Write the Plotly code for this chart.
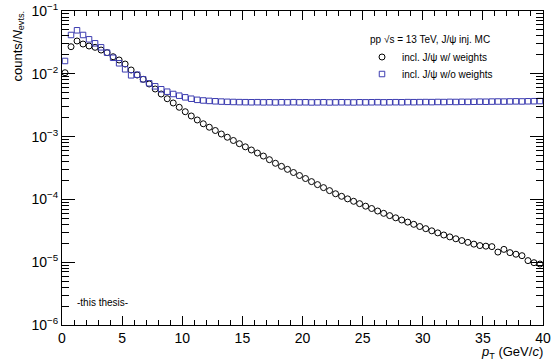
import plotly.graph_objects as go

pt = [0.25 + 0.5 * i for i in range(80)]

w_weights = [
    0.0104, 0.0270, 0.0333, 0.0298, 0.0277, 0.0264, 0.0239, 0.0217, 0.0187, 0.0166,
    0.0143, 0.0115, 0.00957, 0.00817, 0.00689, 0.00573, 0.00477, 0.00401, 0.00343, 0.00293,
    0.00249, 0.00213, 0.00184, 0.00160, 0.00141, 0.00125, 0.00110, 9.77e-4, 8.67e-4, 7.71e-4,
    6.87e-4, 6.12e-4, 5.47e-4, 4.90e-4, 4.29e-4, 3.76e-4, 3.36e-4, 3.01e-4, 2.68e-4, 2.40e-4,
    2.15e-4, 1.92e-4, 1.72e-4, 1.54e-4, 1.38e-4, 1.23e-4, 1.12e-4, 1.02e-4, 9.33e-5, 8.55e-5,
    7.80e-5, 7.16e-5, 6.53e-5, 6.00e-5, 5.52e-5, 5.09e-5, 4.70e-5, 4.35e-5, 4.01e-5, 3.70e-5,
    3.42e-5, 3.16e-5, 2.93e-5, 2.71e-5, 2.53e-5, 2.36e-5, 2.21e-5, 2.07e-5, 1.94e-5, 1.84e-5,
    1.80e-5, 1.77e-5, 1.45e-5, 1.60e-5, 1.42e-5, 1.34e-5, 1.27e-5, 1.06e-5, 9.82e-6, 9.35e-6,
]

wo_weights = [
    0.0160, 0.0415, 0.0493, 0.0415, 0.0354, 0.0306, 0.0264, 0.0217, 0.0180, 0.0147,
    0.0118, 0.00946, 0.00968, 0.00817, 0.00706, 0.00632, 0.00567, 0.00519, 0.00477, 0.00448,
    0.00422, 0.00401, 0.00385, 0.00376, 0.00370, 0.00365, 0.00361, 0.00358, 0.00356, 0.00354,
    0.00353, 0.00352, 0.00353, 0.00351, 0.00352, 0.00350, 0.00352, 0.00351, 0.00353, 0.00351,
    0.00352, 0.00350, 0.00351, 0.00352, 0.00350, 0.00351, 0.00352, 0.00351, 0.00350, 0.00352,
    0.00351, 0.00352, 0.00353, 0.00351, 0.00352, 0.00353, 0.00352, 0.00354, 0.00353, 0.00354,
    0.00355, 0.00354, 0.00356, 0.00355, 0.00357, 0.00356, 0.00358, 0.00357, 0.00359, 0.00360,
    0.00359, 0.00361, 0.00362, 0.00361, 0.00363, 0.00364, 0.00363, 0.00365, 0.00366, 0.00368,
]

x_ticks = [0, 5, 10, 15, 20, 25, 30, 35, 40]
y_ticks = [1e-6, 1e-5, 1e-4, 1e-3, 1e-2, 1e-1]
y_ticktext = ["10<sup>−6</sup>", "10<sup>−5</sup>", "10<sup>−4</sup>",
              "10<sup>−3</sup>", "10<sup>−2</sup>", "10<sup>−1</sup>"]
y_minor = [k * 10.0 ** n for n in range(-6, -1) for k in range(2, 10)]

FONT = "Liberation Sans, Arial, Helvetica, sans-serif"
L, R, T, B = 62, 543, 11, 325
PW, PH = R - L, B - T


def px(x):
    return (x - L) / PW


def py(y):
    return (B - y) / PH


fig = go.Figure()
fig.add_trace(go.Scatter(
    x=pt, y=w_weights, mode="markers", name="incl. J/ψ w/ weights", legend="legend",
    marker=dict(symbol="circle-open", size=6, color="black", line=dict(width=1, color="black")),
))
fig.add_trace(go.Scatter(
    x=pt, y=wo_weights, mode="markers", name="incl. J/ψ w/o weights", legend="legend2",
    marker=dict(symbol="square-open", size=5.5, color="#3c3cb0", line=dict(width=1, color="#3c3cb0")),
))

leg_common = dict(xanchor="left", yanchor="middle", bgcolor="rgba(0,0,0,0)",
                  font=dict(size=10, family=FONT, color="black"), itemwidth=30)

fig.update_layout(
    width=551, height=363,
    margin=dict(l=L, r=551 - R, t=T, b=363 - B, autoexpand=False),
    paper_bgcolor="white", plot_bgcolor="white",
    font=dict(family=FONT, color="black"),
    showlegend=True,
    legend=dict(x=px(362), y=py(57), **leg_common),
    legend2=dict(x=px(362), y=py(74), **leg_common),
)

fig.update_xaxes(
    range=[0, 40], showline=True, linecolor="black", linewidth=1, mirror="allticks",
    ticks="inside", ticklen=9, tickwidth=1, tickcolor="black",
    tickmode="array", tickvals=x_ticks, automargin=False,
    minor=dict(ticks="inside", ticklen=5, tickwidth=1, tickcolor="black", dtick=1, tick0=0, showgrid=False),
    showgrid=False, zeroline=False, tickfont=dict(size=14, family=FONT, color="black"),
)
fig.update_yaxes(
    type="log", range=[-6, -1], showline=True, linecolor="black", linewidth=1, mirror="allticks",
    ticks="inside", ticklen=13, tickwidth=1, tickcolor="black",
    tickmode="array", tickvals=y_ticks, ticktext=y_ticktext, automargin=False,
    minor=dict(ticks="inside", ticklen=7, tickwidth=1, tickcolor="black",
               tickmode="array", tickvals=y_minor, showgrid=False),
    showgrid=False, zeroline=False, tickfont=dict(size=14, family=FONT, color="black"),
)

fig.add_annotation(
    text="counts/<i>N</i><sub>evts.</sub>", xref="paper", yref="paper",
    x=px(18), y=py(9), xanchor="center", yanchor="top", textangle=-90, showarrow=False,
    font=dict(size=13, family=FONT, color="black"),
)
fig.add_annotation(
    text="<i>p</i><sub>T</sub> (GeV/<i>c</i>)", xref="paper", yref="paper",
    x=px(545), y=py(342), xanchor="right", yanchor="top", showarrow=False,
    font=dict(size=13, family=FONT, color="black"),
)
fig.add_annotation(
    text="pp √s = 13 TeV, J/ψ inj. MC", xref="paper", yref="paper",
    x=px(368), y=py(40), xanchor="left", yanchor="middle", showarrow=False,
    font=dict(size=10, family=FONT, color="black"),
)
fig.add_annotation(
    text="-this thesis-", xref="paper", yref="paper",
    x=px(75), y=py(302), xanchor="left", yanchor="middle", showarrow=False,
    font=dict(size=10, family=FONT, color="black"),
)

fig.write_html("out.html", config={"displayModeBar": False},
               post_script="document.body.style.margin='0';document.body.style.padding='0';")
